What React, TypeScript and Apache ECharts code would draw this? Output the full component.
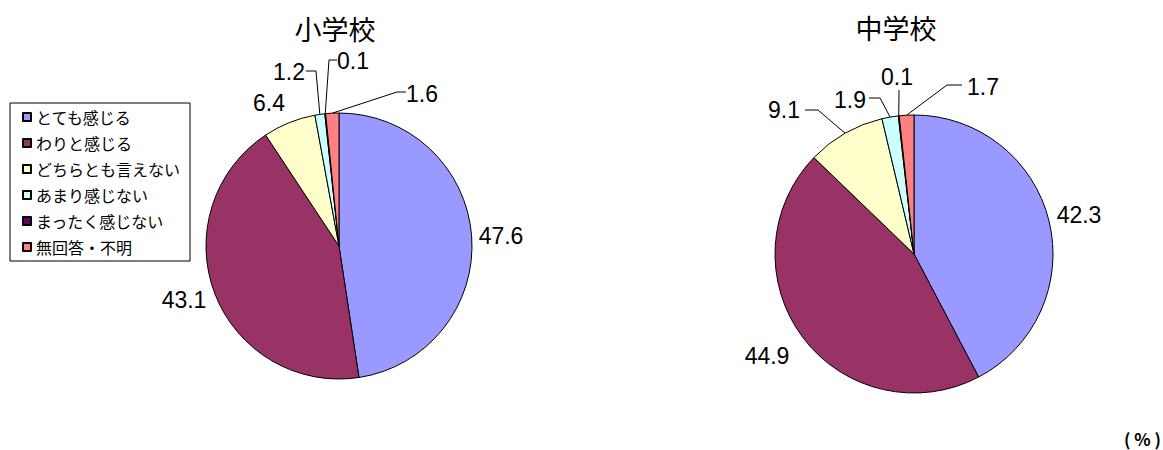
import React, { useEffect, useRef } from "react";
import * as echarts from "echarts";

const categories = ["とても感じる", "わりと感じる", "どちらとも言えない", "あまり感じない", "まったく感じない", "無回答・不明"];
const elementaryValues = [47.6, 43.1, 6.4, 1.2, 0.1, 1.6];
const juniorValues = [42.3, 44.9, 9.1, 1.9, 0.1, 1.7];
const titles = ["小学校", "中学校"];
const colors = ["#9999FF", "#993366", "#FFFFCC", "#CCFFFF", "#660066", "#FF8080"];

// label placement config (text centre) and leader-line elbows per series / item
const LABEL_POS: number[][][] = [
  [[501, 236], [184, 300], [269, 103], [289, 72], [353, 61], [422, 94]],
  [[1079, 215], [767, 356], [784, 110], [850, 100], [897, 77], [983, 87]],
];
const ELBOWS: (number[][] | null)[][] = [
  [null, null, null, [[316, 71], [306, 71]], [[329, 60], [337, 60]], [[397, 92], [406, 92]]],
  [null, null, [[818, 110], [805, 110]], [[880, 98], [869, 98]], [[899, 90], [899, 90]], [[947, 85], [962, 85]]],
];

const FONT = "'Noto Sans CJK JP', sans-serif";
const NUMFONT = "'Liberation Sans', Arial, sans-serif";

export default function App() {
  const ref = useRef<HTMLDivElement>(null);
  useEffect(() => {
    document.body.style.margin = "0";
    const chart = echarts.init(ref.current!, null, { renderer: "svg" });
    const mkSeries = (idx: number, values: number[], center: number[], radius: number) => ({
      type: "pie",
      name: titles[idx],
      center,
      radius,
      startAngle: 90,
      clockwise: true,
      avoidLabelOverlap: false,
      itemStyle: { borderColor: "#000", borderWidth: 1 },
      label: {
        show: true,
        position: "outside",
        formatter: (p: any) => p.value.toFixed(1),
        fontSize: 23,
        lineHeight: 22,
        color: "#000",
        fontFamily: NUMFONT,
      },
      labelLine: { show: true, lineStyle: { color: "#000", width: 1 } },
      labelLayout: (p: any) => {
        const pos = LABEL_POS[idx][p.dataIndex];
        const el = ELBOWS[idx][p.dataIndex];
        const out: any = { x: pos[0], y: pos[1], align: "center", verticalAlign: "middle" };
        if (el && p.labelLinePoints) {
          out.labelLinePoints = [p.labelLinePoints[0], el[0], el[1]];
        }
        return out;
      },
      data: categories.map((c, i) => ({
        name: c,
        value: values[i],
        itemStyle: { color: colors[i] },
        labelLine: { show: ELBOWS[idx][i] !== null },
      })),
    });
    chart.setOption({
      animation: false,
      title: [
        { text: titles[0], left: 335, top: 15, padding: 0, textAlign: "center", textStyle: { fontSize: 27, lineHeight: 27, fontWeight: "normal", color: "#000", fontFamily: FONT } },
        { text: titles[1], left: 896, top: 14, padding: 0, textAlign: "center", textStyle: { fontSize: 27, lineHeight: 27, fontWeight: "normal", color: "#000", fontFamily: FONT } },
      ],
      legend: {
        orient: "vertical",
        left: 10,
        top: 103,
        data: categories,
        icon: "rect",
        itemWidth: 8,
        itemHeight: 8,
        itemGap: 10,
        padding: [6, 10, 6, 12],
        borderColor: "#000",
        borderWidth: 1,
        borderRadius: 0,
        selectedMode: false,
        textStyle: { fontSize: 16, color: "#000", fontFamily: FONT },
      },
      graphic: [
        { type: "text", left: 1124, top: 430, style: { text: "( % )", fontSize: 17, fontWeight: "bold", fill: "#000", fontFamily: FONT } },
      ],
      series: [
        mkSeries(0, elementaryValues, [339, 246], 133),
        mkSeries(1, juniorValues, [914, 254], 139),
      ],
    });
    return () => chart.dispose();
  }, []);
  return <div ref={ref} style={{ width: 1163, height: 450 }} />;
}
